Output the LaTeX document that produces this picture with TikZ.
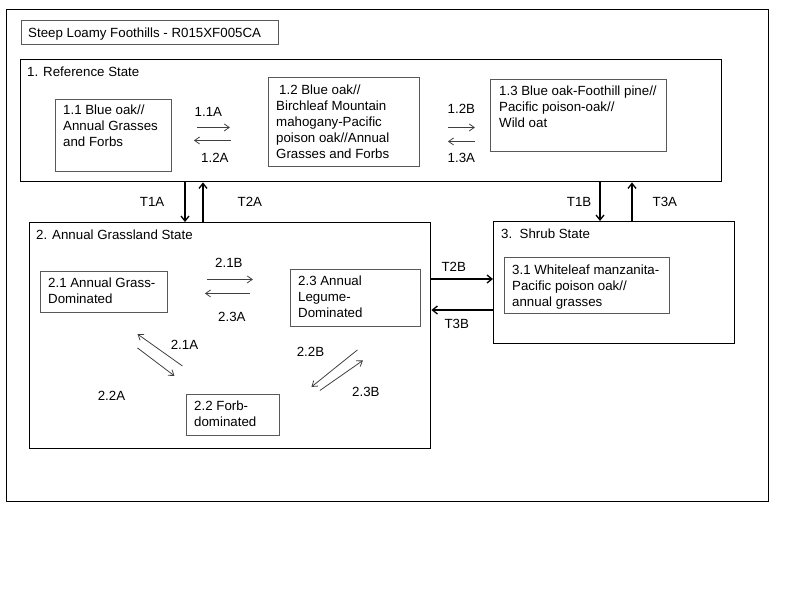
\documentclass[tikz,border=0pt]{standalone}
\usepackage{fontspec}
\setmainfont{Liberation Sans}
\usetikzlibrary{arrows.meta}
\tikzset{
	statebox/.style={draw=black, line width=1.4pt, anchor=north west, inner sep=0pt},
	commbox/.style={draw=black!65, line width=0.9pt, anchor=north west, inner sep=0pt},
	boxtext/.style={anchor=north west, align=left, inner sep=0pt, font=\fontsize{13.3}{16}\selectfont},
	lbl/.style={inner sep=0pt, font=\fontsize{13.3}{16}\selectfont},
	tarrow/.style={line width=1.3pt, -{Straight Barb[length=5pt,width=8pt]}},
	parrow/.style={draw=black!75, line width=0.8pt, -{Straight Barb[length=5pt,width=7pt]}}
}
\begin{document}
\begin{tikzpicture}[x=1pt, y=-1pt]
	\useasboundingbox (0,0) rectangle (800,600);
	
	\node[statebox, minimum width=762pt, minimum height=492pt] (outer) at (6,9) {};
	
	\node[commbox, minimum width=257pt, minimum height=24pt] (title) at (21,20) {};
	\node[boxtext] (titletext) at ([shift={(7,8)}]title.north west) {Steep Loamy Foothills - R015XF005CA};
	
	% reference state
	\node[statebox, minimum width=701pt, minimum height=122pt] (ref) at (20,59) {};
	\node[boxtext] (reftext) at ([shift={(7,8)}]ref.north west) {1. Reference State};
	
	\node[commbox, minimum width=116pt, minimum height=72pt] (c11) at (55,99) {};
	\node[boxtext] (c11text) at ([shift={(8,6)}]c11.north west) {1.1 Blue oak//\\Annual Grasses\\and Forbs};
	
	\node[commbox, minimum width=151pt, minimum height=89pt] (c12) at (268,77) {};
	\node[boxtext] (c12text) at ([shift={(8,8)}]c12.north west) {\hspace{3pt}1.2 Blue oak//\\Birchleaf Mountain\\mahogany-Pacific\\poison oak//Annual\\Grasses and Forbs};
	
	\node[commbox, minimum width=176pt, minimum height=72pt] (c13) at (490,79) {};
	\node[boxtext] (c13text) at ([shift={(9,7)}]c13.north west) {1.3 Blue oak-Foothill pine//\\Pacific poison-oak//\\Wild oat};
	
	% annual grassland state
	\node[statebox, minimum width=401pt, minimum height=226pt] (grass) at (29,222) {};
	\node[boxtext] (grasstext) at ([shift={(7,8)}]grass.north west) {2. Annual Grassland State};
	
	\node[commbox, minimum width=127pt, minimum height=41pt] (c21) at (40,271) {};
	\node[boxtext] (c21text) at ([shift={(8,7)}]c21.north west) {2.1 Annual Grass-\\Dominated};
	
	\node[commbox, minimum width=130pt, minimum height=57pt] (c23) at (290,269) {};
	\node[boxtext] (c23text) at ([shift={(8,7)}]c23.north west) {2.3 Annual\\Legume-\\Dominated};
	
	\node[commbox, minimum width=93pt, minimum height=41pt] (c22) at (186,394) {};
	\node[boxtext] (c22text) at ([shift={(8,7)}]c22.north west) {2.2 Forb-\\dominated};
	
	% shrub state
	\node[statebox, minimum width=241pt, minimum height=122pt] (shrub) at (493,221) {};
	\node[boxtext] (shrubtext) at ([shift={(8,8)}]shrub.north west) {3.\ \ Shrub State};
	
	\node[commbox, minimum width=165pt, minimum height=56pt] (c31) at (504,257) {};
	\node[boxtext] (c31text) at ([shift={(8,8)}]c31.north west) {3.1 Whiteleaf manzanita-\\Pacific poison oak//\\annual grasses};
	
	% community pathways
	\draw[parrow] ([shift={(25,-8)}]c11.east) -- ++(33,0) node[lbl, midway, above=11pt, xshift=-5pt] (l11a) {1.1A};
	\draw[parrow] ([shift={(59,5)}]c11.east) -- ++(-37,0) node[lbl, midway, below=12pt, xshift=2.5pt] (l12a) {1.2A};
	\draw[parrow] ([shift={(28,5.5)}]c12.east) -- ++(27,0) node[lbl, midway, above=14pt] (l12b) {1.2B};
	\draw[parrow] ([shift={(55,19.5)}]c12.east) -- ++(-27,0) node[lbl, midway, below=11pt] (l13a) {1.3A};
	
	\draw[parrow] ([shift={(39,-12.5)}]c21.east) -- ++(46,0) node[lbl, midway, above=12pt, xshift=-1pt] (l21b) {2.1B};
	\draw[parrow] ([shift={(82,1.5)}]c21.east) -- ++(-45,0) node[lbl, midway, below=18pt, xshift=4.5pt] (l23a) {2.3A};
	\draw[parrow] ([shift={(-50.5,-28)}]c22.north) -- ++(-45,-32) node[lbl, at start, xshift=2pt, yshift=21pt] (l21a) {2.1A};
	\draw[parrow] ([shift={(33.5,35)}]c21.south) -- ++(37,28) node[lbl, at start, xshift=-26pt, yshift=-48pt] (l22a) {2.2A};
	\draw[parrow] ([shift={(2,23)}]c23.south) -- ++(-46,37) node[lbl, at start, xshift=-47pt, yshift=-1.5pt] (l22b) {2.2B};
	\draw[parrow] ([shift={(40,-24.5)}]c22.east) -- ++(43,-30) node[lbl, at start, xshift=46pt, yshift=-1pt] (l23b) {2.3B};
	
	% transitions
	\draw[tarrow] (185,0 |- ref.south) -- (185,0 |- grass.north) node[lbl, midway, left=20pt] (lt1a) {T1A};
	\draw[tarrow] (203,0 |- grass.north) -- (203,0 |- ref.south) node[lbl, midway, right=34pt] (lt2a) {T2A};
	\draw[tarrow] (600,0 |- ref.south) -- (600,0 |- shrub.north) node[lbl, midway, left=8pt] (lt1b) {T1B};
	\draw[tarrow] (632,0 |- shrub.north) -- (632,0 |- ref.south) node[lbl, midway, right=20pt] (lt3a) {T3A};
	\draw[tarrow] (grass.east |- 0,279) -- (shrub.west |- 0,279) node[lbl, midway, above=7pt, xshift=-8.5pt] (lt2b) {T2B};
	\draw[tarrow] (shrub.west |- 0,310) -- (grass.east |- 0,310) node[lbl, midway, below=9pt, xshift=-5.5pt] (lt3b) {T3B};
\end{tikzpicture}
\end{document}
